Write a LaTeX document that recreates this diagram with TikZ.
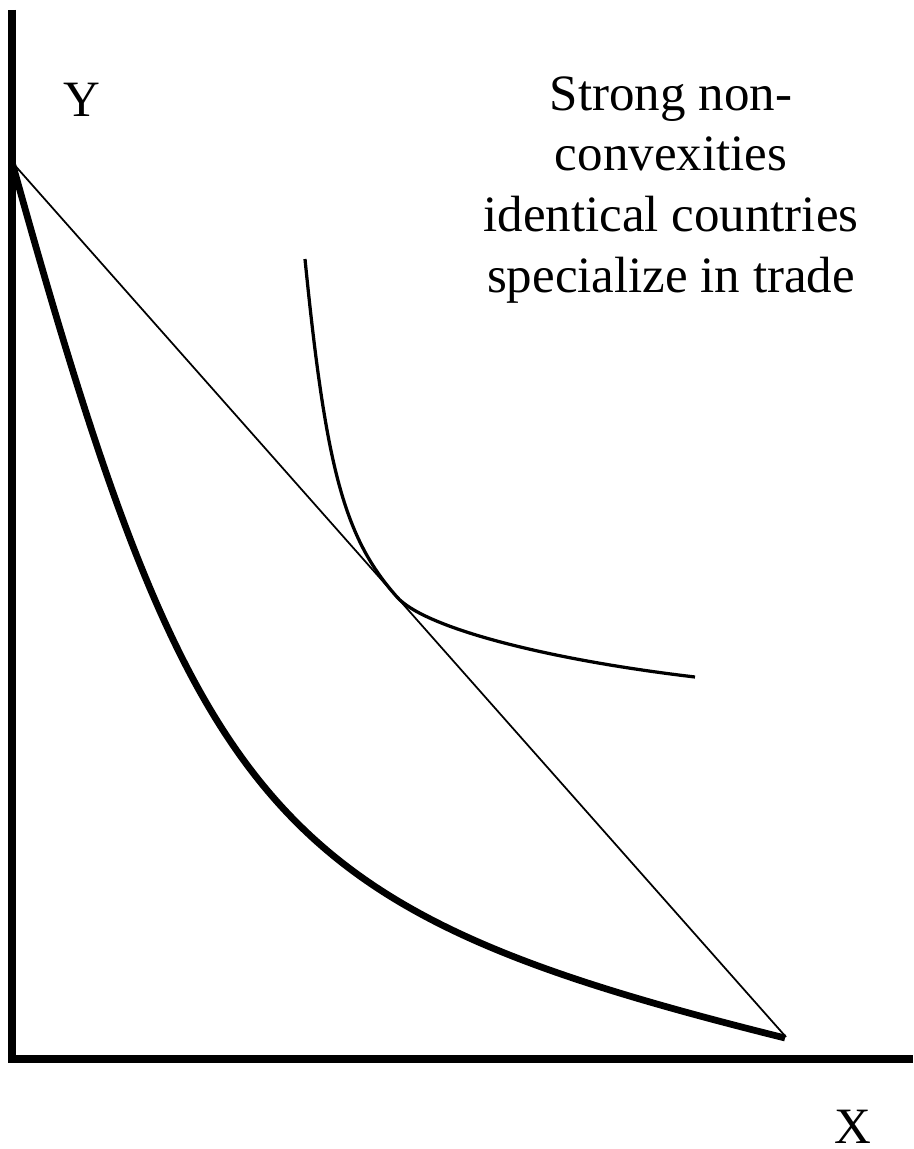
\documentclass[tikz,border=0pt]{standalone}
\usepackage{fontspec}
\setmainfont{Liberation Serif}
\usepackage{tikz}

\begin{document}
\begin{tikzpicture}[
  x=0.2mm, y=-0.2mm,
  font=\fontsize{29}{34.5}\selectfont,
  axis/.style={
    line width=1.6mm
  },
  ppf/.style={
    line width=1.35mm
  },
  indiff/.style={
    line width=0.65mm
  },
  price/.style={
    line width=0.35mm
  },
  label/.style={
    inner sep=0pt,
    anchor=base
  },
  note/.style={
    inner sep=0pt,
    anchor=base,
    align=center
  }
]

\useasboundingbox (0,0) rectangle (913,1149);

% --- Axes ------------------------------------------------------------

\coordinate (top) at (12,10);
\coordinate (origin) at (12,1063);
\coordinate (left) at (8,1059);
\coordinate (right) at (913,1059);

\draw[axis] (top) -- (origin);
\draw[axis] (left) -- (right);

\node[label] (ylab) at (82,116) {Y};
\node[label] (xlab) at (853,1143) {X};

% --- Production frontier and price line ------------------------------

\coordinate (ymax) at (11,161);
\coordinate (xmax) at (786,1037);

\draw[ppf] (12,162) .. controls (195.6,822.6) and (273,910.2) .. (785,1038);

\draw[price] (ymax) -- (xmax);

% --- Indifference curve ----------------------------------------------

\coordinate (tangency) at (397,597);

\draw[indiff] (305,259) .. controls (326,470) and (344.5,538) .. (tangency)
  .. controls (423.4,627) and (542.6,659) .. (695,677);

% --- Annotation ------------------------------------------------------

\node[note] (title) at (671,292)
{Strong non-\\convexities\\identical countries\\specialize in trade};

\end{tikzpicture}
\end{document}
